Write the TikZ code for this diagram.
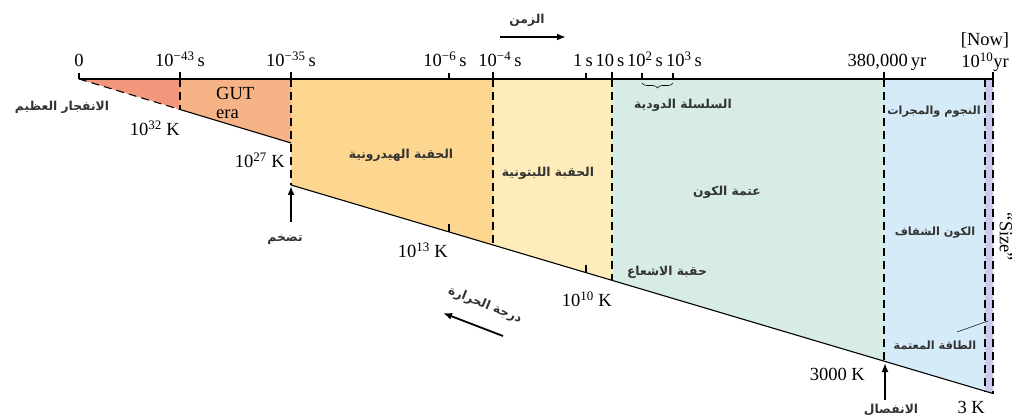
\documentclass[tikz,border=0pt]{standalone}
\usepackage{fontspec}
\setmainfont{Liberation Serif}
\newfontfamily\arabicfont[Script=Arabic]{DejaVu Sans}
\TeXXeTstate=1
\usetikzlibrary{arrows.meta,decorations.pathreplacing}
\definecolor{cRed}{HTML}{F3977C}
\definecolor{cGut}{HTML}{F6B385}
\definecolor{cHad}{HTML}{FDD690}
\definecolor{cLep}{HTML}{FEEDBB}
\definecolor{cRad}{HTML}{D6ECE5}
\definecolor{cBlu}{HTML}{D5EBF8}
\definecolor{cLav}{HTML}{CACBEA}
\begin{document}
\begin{tikzpicture}[x=1pt,y=-1pt,
  lbl/.style={font=\fontsize{18.5}{18.5}\selectfont, inner sep=0pt},
  ar/.style={font=\fontsize{12.3}{13}\selectfont\arabicfont\bfseries, inner sep=0pt, text=black!80},
  arsm/.style={ar, font=\fontsize{11.3}{12}\selectfont\arabicfont\bfseries},
  dsh/.style={dash pattern=on 8pt off 5pt, line width=1.1pt},
  edgeline/.style={line width=1.1pt},
  tk/.style={line width=1.1pt},
  btk/.style={line width=1.8pt},
  bigarrow/.style={line width=2.2pt, -{Latex[length=9pt,width=7pt]}}
]
\useasboundingbox (0,0) rectangle (1014,419);
% key points
\coordinate (o) at (79,79);
\coordinate (a1) at (180,79);  \coordinate (b1) at (180,109.5);
\coordinate (a2) at (291,79);  \coordinate (u2) at (291,143); \coordinate (b2) at (291,185);
\coordinate (a3) at (493,79);  \coordinate (b3) at (493,245);
\coordinate (a4) at (612,79);  \coordinate (b4) at (612,280.3);
\coordinate (a5) at (884,79);  \coordinate (b5) at (884,361.1);
\coordinate (a6) at (985,79);  \coordinate (b6) at (985,391.1);
\coordinate (a7) at (993,79);  \coordinate (b7) at (993,393.5);
% fills
\fill[cRed] (o) -- (a1) -- (b1) -- cycle;
\fill[cGut] (a1) -- (a2) -- (u2) -- (b1) -- cycle;
\fill[cHad] (a2) -- (a3) -- (b3) -- (b2) -- cycle;
\fill[cLep] (a3) -- (a4) -- (b4) -- (b3) -- cycle;
\fill[cRad] (a4) -- (a5) -- (b5) -- (b4) -- cycle;
\fill[cBlu] (a5) -- (a6) -- (b6) -- (b5) -- cycle;
\fill[cLav] (a6) -- (a7) -- (b7) -- (b6) -- cycle;
% outlines
\draw[edgeline] (o) -- (a7);
\draw[dsh] (o) -- (b1);
\draw[edgeline] (b1) -- (u2);
\draw[edgeline] (b2) -- (b7);
\foreach \p in {1,2,3,4,5,6,7} {\draw[dsh] (a\p) -- (b\p);}
% ticks above the axis
\draw[tk] (o) -- ++(0,-6);
\foreach \x in {180,291,493,612,884,993} {\draw[btk] (\x,79) -- (\x,72);}
\foreach \x in {449,586,642,673} {\draw[tk] (\x,79) -- (\x,73);}
% ticks on temperature line
\draw[tk] (449,231.9) -- (449,224);
\draw[tk] (586,272.6) -- (586,265);
% brace
\draw[line width=0.6pt, decorate, decoration={brace, amplitude=5pt, mirror}] (642,83) -- (673,83);
% time labels
\node[lbl, anchor=base] (t0) at (79,67) {0};
\node[lbl, anchor=base] (t43) at (180,67) {10\textsuperscript{−43}\,s};
\node[lbl, anchor=base] (t35) at (291,67) {10\textsuperscript{−35}\,s};
\node[lbl, anchor=base] (t6) at (445,67) {10\textsuperscript{−6}\,s};
\node[lbl, anchor=base] (t4) at (500,67) {10\textsuperscript{−4}\,s};
\node[lbl, anchor=base] (t1s) at (583,67) {1\,s};
\node[lbl, anchor=base] (t10s) at (610,67) {10\,s};
\node[lbl, anchor=base] (t2) at (645,67) {10\textsuperscript{2}\,s};
\node[lbl, anchor=base] (t3) at (684,67) {10\textsuperscript{3}\,s};
\node[lbl, anchor=base] (t380) at (887,67) {380,000\,yr};
\node[lbl, anchor=base] (tnow) at (985,46) {[Now]};
\node[lbl, anchor=base] (t10) at (985,68) {10\textsuperscript{10}yr};
% temperature labels
\node[lbl, anchor=base east] (k32) at (180,136) {10\textsuperscript{32} K};
\node[lbl, anchor=base east] (k27) at (285,168) {10\textsuperscript{27} K};
\node[lbl, anchor=base east] (k13) at (448,258) {10\textsuperscript{13} K};
\node[lbl, anchor=base east] (k10) at (612,307) {10\textsuperscript{10} K};
\node[lbl, anchor=base east] (k3000) at (865,380) {3000 K};
\node[lbl, anchor=base east] (k3) at (985,413) {3 K};
% GUT era
\node[lbl, anchor=base west] (gut) at (216,100) {GUT};
\node[lbl, anchor=base west] (era) at (216,119) {era};
% Arabic labels
\node[ar] (bb) at (62,107) {\beginR الانفجار العظيم\endR};
\node[ar] (had) at (401,155) {\beginR الحقبة الهيدرونية\endR};
\node[ar] (lep) at (548,173) {\beginR الحقبة اللبتونية\endR};
\node[ar] (nuc) at (683,105) {\beginR السلسلة الدودية\endR};
\node[ar] (dark) at (727,192) {\beginR عتمة الكون\endR};
\node[ar] (rad) at (667,272) {\beginR حقبة الاشعاع\endR};
\node[arsm] (stars) at (934,112) {\beginR النجوم والمجرات\endR};
\node[arsm] (transp) at (935,233) {\beginR الكون الشفاف\endR};
\node[arsm] (de) at (935,345) {\beginR الطاقة المعتمة\endR};
\node[ar] (infl) at (285,240) {\beginR تضخم\endR};
\node[ar] (dec) at (891,410) {\beginR الانفصال\endR};
\node[ar] (time) at (527,20) {\beginR الزمن\endR};
\node[ar, rotate=-22] (temp) at (485,305) {\beginR درجة الحرارة\endR};
\node[lbl, rotate=-90] (size) at (1006,237) {``Size''};
% arrows
\coordinate (timeS) at (500,37); \coordinate (timeE) at (566,37);
\draw[bigarrow, line width=2.4pt] (timeS) -- (timeE);
\coordinate (tempS) at (503,336); \coordinate (tempE) at (443,313);
\draw[bigarrow, line width=1.8pt] (tempS) -- (tempE);
\coordinate (inflS) at (291,222); \coordinate (inflE) at (291,186);
\draw[bigarrow] (inflS) -- (inflE);
\coordinate (decS) at (885,400); \coordinate (decE) at (885,363);
\draw[bigarrow] (decS) -- (decE);
% leader for dark energy
\coordinate (deL) at (957,332); \coordinate (deR) at (988,321);
\draw[line width=0.5pt] (deL) -- (deR);
\end{tikzpicture}
\end{document}
